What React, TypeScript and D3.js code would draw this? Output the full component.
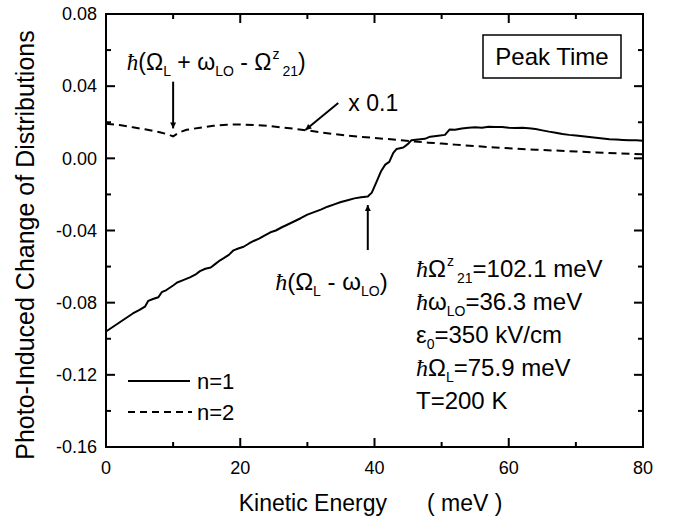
import React from "react";
import * as d3 from "d3";

const n1Energy = [0,1,2,3,4,5,5.8,6.3,7,7.8,8.3,9,10,10.6,11.5,12.5,13.3,14,14.8,15.6,16.3,17,17.6,18.3,19,19.7,20.5,21.3,22,22.8,23.6,24.5,25.3,26.2,27,28,29,30,31,32,33,34,35,36,37,38,39,39.6,40.3,41,41.6,42.2,42.8,43.3,44.3,45,45.5,46.5,47.5,48.3,49.5,50.5,51.2,52,53,54,55,56,57,58,59,60,61,62,63,64,65,66,67,68,69,70,71,72,73,74,75,76,77,78,79,80];
const n1Values = [-0.096,-0.0935,-0.091,-0.0885,-0.086,-0.084,-0.0822,-0.079,-0.078,-0.077,-0.0742,-0.073,-0.0705,-0.0688,-0.0675,-0.066,-0.0645,-0.0625,-0.0612,-0.0605,-0.0585,-0.0565,-0.0552,-0.0535,-0.051,-0.05,-0.049,-0.0472,-0.0458,-0.0445,-0.0428,-0.041,-0.04,-0.0382,-0.0368,-0.035,-0.0332,-0.0312,-0.0298,-0.0284,-0.0268,-0.0255,-0.0242,-0.0232,-0.0222,-0.0216,-0.0212,-0.019,-0.013,-0.007,-0.0035,-0.002,0.003,0.0052,0.006,0.008,0.01,0.0105,0.0108,0.012,0.0125,0.013,0.016,0.0158,0.0165,0.017,0.0172,0.017,0.0175,0.0174,0.0173,0.017,0.0168,0.017,0.0167,0.0162,0.0155,0.0148,0.0142,0.0135,0.013,0.0126,0.0122,0.0118,0.0114,0.011,0.0106,0.0104,0.0102,0.01,0.01,0.0098];

const n2Energy = [0,2,4,6,8,9,10,11,12,14,16,18,20,22,24,26,28,30,32,34,36,38,40,42,44,46,48,50,52,55,58,61,64,67,70,73,76,80];
const n2Values = [0.0192,0.0185,0.0172,0.016,0.0145,0.0135,0.0122,0.0145,0.0158,0.017,0.018,0.0186,0.0188,0.0185,0.018,0.0172,0.0164,0.0155,0.0144,0.0134,0.0126,0.0119,0.0113,0.0107,0.01,0.0093,0.0087,0.0082,0.0076,0.0068,0.006,0.0054,0.0048,0.0043,0.0038,0.0033,0.0028,0.0022];

const xMajorTicks = [0, 20, 40, 60, 80];
const xMinorTicks = [10, 30, 50, 70];
const yMajorTicks = [0.08, 0.04, 0, -0.04, -0.08, -0.12, -0.16];
const yMinorTicks = [0.06, 0.02, -0.02, -0.06, -0.1, -0.14];
const yTickLabels = ["0.08", "0.04", "0.00", "-0.04", "-0.08", "-0.12", "-0.16"];
const xTickLabels = ["0", "20", "40", "60", "80"];

const paramLines = ["omega21", "omegaLO", "eps", "omegaL", "T"];

const W = 673, H = 520;
const M = { left: 106, right: 643, top: 14, bottom: 447 };
const FONT = "'Liberation Sans', Arial, Helvetica, sans-serif";
const HBAR_FONT = "'Liberation Serif', 'Times New Roman', serif";

const x = d3.scaleLinear().domain([0, 80]).range([M.left, M.right]);
const y = d3.scaleLinear().domain([-0.16, 0.08]).range([M.bottom, M.top]);

const n1 = n1Energy.map((e, i) => [e, n1Values[i]] as [number, number]);
const n2 = n2Energy.map((e, i) => [e, n2Values[i]] as [number, number]);
const line = d3.line<[number, number]>().x(d => x(d[0])).y(d => y(d[1]));

const Hbar = () => (
  <tspan fontFamily={HBAR_FONT} fontStyle="italic">ħ</tspan>
);

const SUB = 14;

function ParamLine({ kind, xp, yp }: { kind: string; xp: number; yp: number }) {
  const fs = 24;
  if (kind === "omega21")
    return (
      <text x={xp} y={yp} fontSize={fs} style={{ whiteSpace: "pre" }}>
        <Hbar />Ω<tspan fontSize={SUB} dy={-11} dx={1}>z</tspan>
        <tspan fontSize={SUB} dy={17} dx={3}>21</tspan>
        <tspan dy={-6}>=102.1 meV</tspan>
      </text>
    );
  if (kind === "omegaLO")
    return (
      <text x={xp} y={yp} fontSize={fs} style={{ whiteSpace: "pre" }}>
        <Hbar />ω<tspan fontSize={SUB} dy={6}>LO</tspan>
        <tspan dy={-6}>=36.3 meV</tspan>
      </text>
    );
  if (kind === "eps")
    return (
      <text x={xp} y={yp} fontSize={fs} style={{ whiteSpace: "pre" }}>
        ε<tspan fontSize={SUB} dy={6}>0</tspan>
        <tspan dy={-6}>=350 kV/cm</tspan>
      </text>
    );
  if (kind === "omegaL")
    return (
      <text x={xp} y={yp} fontSize={fs} style={{ whiteSpace: "pre" }}>
        <Hbar />Ω<tspan fontSize={SUB} dy={6}>L</tspan>
        <tspan dy={-6}>=75.9 meV</tspan>
      </text>
    );
  return (
    <text x={xp} y={yp} fontSize={fs}>T=200 K</text>
  );
}

export default function App() {
  const tickMaj = 9, tickMin = 5;
  return (
    <svg width={W} height={H} style={{ position: "absolute", left: 0, top: 0, background: "#fff" }} fontFamily={FONT}>
      <defs>
        <marker id="ah" viewBox="0 0 10 10" refX="10" refY="5" markerWidth="9" markerHeight="6" markerUnits="userSpaceOnUse" orient="auto">
          <path d="M0,0 L10,5 L0,10 z" fill="#000" />
        </marker>
      </defs>
      <rect width={W} height={H} fill="#fff" />
      {/* curves */}
      <path d={line(n1) || ""} fill="none" stroke="#000" strokeWidth={2} strokeLinejoin="round" />
      <path d={line(n2) || ""} fill="none" stroke="#000" strokeWidth={2} strokeDasharray="8,5" />

      {/* frame */}
      <rect x={M.left} y={M.top} width={M.right - M.left} height={M.bottom - M.top} fill="none" stroke="#000" strokeWidth={2} />

      {/* ticks */}
      {xMajorTicks.map(t => (
        <g key={"xM" + t}>
          <line x1={x(t)} x2={x(t)} y1={M.bottom} y2={M.bottom - tickMaj} stroke="#000" strokeWidth={2} />
          <line x1={x(t)} x2={x(t)} y1={M.top} y2={M.top + tickMaj} stroke="#000" strokeWidth={2} />
        </g>
      ))}
      {xMinorTicks.map(t => (
        <g key={"xm" + t}>
          <line x1={x(t)} x2={x(t)} y1={M.bottom} y2={M.bottom - tickMin} stroke="#000" strokeWidth={2} />
          <line x1={x(t)} x2={x(t)} y1={M.top} y2={M.top + tickMin} stroke="#000" strokeWidth={2} />
        </g>
      ))}
      {yMajorTicks.map(t => (
        <g key={"yM" + t}>
          <line x1={M.left} x2={M.left + tickMaj} y1={y(t)} y2={y(t)} stroke="#000" strokeWidth={2} />
          <line x1={M.right} x2={M.right - tickMaj} y1={y(t)} y2={y(t)} stroke="#000" strokeWidth={2} />
        </g>
      ))}
      {yMinorTicks.map(t => (
        <g key={"ym" + t}>
          <line x1={M.left} x2={M.left + tickMin} y1={y(t)} y2={y(t)} stroke="#000" strokeWidth={2} />
          <line x1={M.right} x2={M.right - tickMin} y1={y(t)} y2={y(t)} stroke="#000" strokeWidth={2} />
        </g>
      ))}

      {/* tick labels */}
      {yMajorTicks.map((t, i) => (
        <text key={"yl" + t} x={M.left - 9} y={y(t)} dy="0.35em" textAnchor="end" fontSize={18}>{yTickLabels[i]}</text>
      ))}
      {xMajorTicks.map((t, i) => (
        <text key={"xl" + t} x={x(t)} y={474} textAnchor="middle" fontSize={18}>{xTickLabels[i]}</text>
      ))}

      {/* axis titles */}
      <text x={387} y={511} textAnchor="end" fontSize={23}>Kinetic Energy</text>
      <text x={427} y={511} fontSize={23} style={{ whiteSpace: "pre" }}>( meV )</text>
      <text transform={`translate(34,245) rotate(-90)`} textAnchor="middle" fontSize={25}>
        Photo-Induced Change of Distributions
      </text>

      {/* Peak Time box */}
      <rect x={483} y={35} width={138} height={43} fill="#fff" stroke="#000" strokeWidth={1.5} />
      <text x={552} y={65} textAnchor="middle" fontSize={24}>Peak Time</text>

      {/* annotation 1 */}
      <text x={x(3.1)} y={y(0.049)} fontSize={23} style={{ whiteSpace: "pre" }}>
        <Hbar />(Ω<tspan fontSize={SUB} dy={6}>L</tspan>
        <tspan dy={-6}> + ω</tspan><tspan fontSize={SUB} dy={6}>LO</tspan>
        <tspan dy={-6}> - Ω</tspan><tspan fontSize={SUB} dy={-11} dx={1}>z</tspan>
        <tspan fontSize={SUB} dy={17} dx={3}>21</tspan><tspan dy={-6}>)</tspan>
      </text>
      <line x1={x(10)} x2={x(10)} y1={y(0.0425)} y2={y(0.0166)} stroke="#000" strokeWidth={2} markerEnd="url(#ah)" />

      {/* annotation x 0.1 */}
      <text x={x(36.1)} y={y(0.0262)} fontSize={23}>x 0.1</text>
      <line x1={x(34.6)} x2={x(29.7)} y1={y(0.0307)} y2={y(0.0157)} stroke="#000" strokeWidth={2} markerEnd="url(#ah)" />

      {/* annotation 3 */}
      <line x1={x(39)} x2={x(39)} y1={y(-0.0508)} y2={y(-0.0259)} stroke="#000" strokeWidth={2} markerEnd="url(#ah)" />
      <text x={x(25.2)} y={y(-0.073)} fontSize={24} style={{ whiteSpace: "pre" }}>
        <Hbar />(Ω<tspan fontSize={SUB} dy={6}>L</tspan>
        <tspan dy={-6}> - ω</tspan><tspan fontSize={SUB} dy={6}>LO</tspan>
        <tspan dy={-6}>)</tspan>
      </text>

      {/* parameters */}
      {paramLines.map((k, i) => (
        <ParamLine key={k} kind={k} xp={416} yp={277 + i * 33} />
      ))}

      {/* legend */}
      <line x1={128} x2={190} y1={381} y2={381} stroke="#000" strokeWidth={2} />
      <text x={197} y={389} fontSize={22}>n=1</text>
      <line x1={128} x2={192} y1={412} y2={412} stroke="#000" strokeWidth={2} strokeDasharray="7,5" />
      <text x={197} y={420} fontSize={22}>n=2</text>
    </svg>
  );
}
